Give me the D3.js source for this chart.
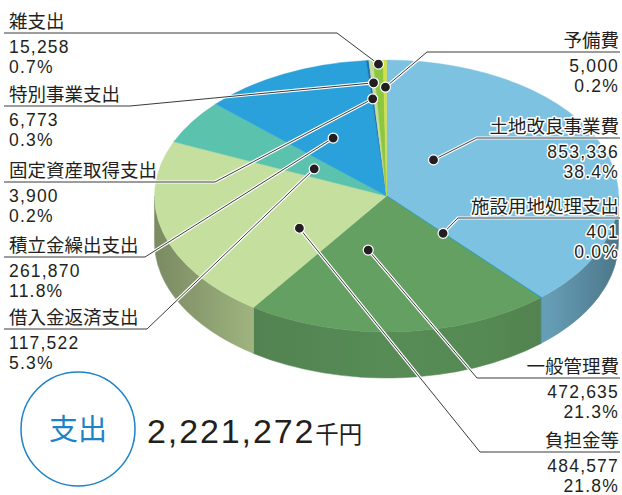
<!DOCTYPE html>
<html>
<head>
<meta charset="utf-8">
<script src="https://cdn.jsdelivr.net/npm/d3@7"></script>
<style>
  html, body { margin: 0; padding: 0; background: #fff; }
  svg { display: block; }
  .name { font-family: "Noto Sans CJK JP", sans-serif; font-size: 18.5px; fill: #231f20; }
  .num { font-family: "Liberation Sans", Arial, sans-serif; font-size: 17.5px; letter-spacing: 1.2px; fill: #231f20; }
  .halo { stroke: #fff; stroke-width: 3px; stroke-linejoin: round; paint-order: stroke; }
</style>
</head>
<body>
<div id="chart"></div>
<script>
// data, in pie order (clockwise from 12 o'clock)
const categories = ['土地改良事業費', '施設用地処理支出', '一般管理費', '負担金等', '借入金返済支出',
  '積立金繰出支出', '固定資産取得支出', '特別事業支出', '雑支出', '予備費']
const values = [853336, 401, 472635, 484577, 117522, 261870, 3900, 6773, 15258, 5000]
const colors = ['#7ec2e1', '#1a9fdc', '#64a062', '#c5df9e', '#5bc2ae',
  '#2aa1da', '#1b6fb4', '#c4dd9a', '#8dc641', '#d4e03c']
const total = 2221272
const totalLabel = '支出'
const unitLabel = '千円'

// label layout: side, underline y, bend x, dot position inside slice (t along slice, r radius fraction)
const labelLayout = [
  { side: 'right', y: 138, bend: 477, t: 0.27, r: 0.334 },
  { side: 'right', y: 218, bend: 458, t: 0.5, r: 0.367 },
  { side: 'right', y: 378, bend: 477, t: 0.69, r: 0.405 },
  { side: 'right', y: 452, bend: 480, t: 0.29, r: 0.444 },
  { side: 'left', y: 329, bend: 147, t: 0.48, r: 0.37 },
  { side: 'left', y: 257, bend: 145, t: 0.45, r: 0.484 },
  { side: 'left', y: 182, bend: 215, t: 0.4, r: 0.717 },
  { side: 'left', y: 106, bend: 130, t: 0.5, r: 0.834 },
  { side: 'left', y: 33, bend: 337, t: 0.5, r: 0.97 },
  { side: 'right', y: 52, bend: 427, t: 0.6, r: 0.80 }
]

const width = 622
const height = 495
const cx = 386.5, cy = 196, rx = 232, ry = 136, depth = 46

const svg = d3.select('#chart').append('svg')
  .attr('width', width)
  .attr('height', height)

const defs = svg.append('defs')

const data = categories.map((c, i) => ({ name: c, value: values[i], color: colors[i], layout: labelLayout[i] }))
const arcs = d3.pie().sort(null).value(d => d.value)(data)

const pct = d3.format('.1%')
const num = d3.format(',')

// point on top ellipse, angle clockwise from top
const pt = (a, r = 1, dy = 0) => [cx + rx * r * Math.sin(a), cy - ry * r * Math.cos(a) + dy]

// side walls (front half only)
const sideG = svg.append('g').attr('class', 'sides')
arcs.forEach((d, i) => {
  const a0 = Math.max(d.startAngle, Math.PI / 2)
  const a1 = Math.min(d.endAngle, Math.PI * 1.5)
  if (a1 <= a0) return
  const gid = 'side' + i
  const grad = defs.append('linearGradient')
    .attr('id', gid)
    .attr('gradientUnits', 'userSpaceOnUse')
    .attr('x1', cx - rx).attr('x2', cx + rx)
    .attr('y1', 0).attr('y2', 0)
  const stops = [[0, 1.35], [0.23, 0.55], [0.5, 0.38], [0.7, 0.42], [0.85, 0.6], [1, 1.4]]
  stops.forEach(s => {
    grad.append('stop').attr('offset', s[0]).attr('stop-color', d3.color(d.data.color).darker(s[1]))
  })
  const p0 = pt(a0), p1 = pt(a1)
  const q0 = pt(a0, 1, depth), q1 = pt(a1, 1, depth)
  const path = `M${p0}A${rx},${ry} 0 0 1 ${p1}L${q1}A${rx},${ry} 0 0 0 ${q0}Z`
  sideG.append('path')
    .attr('d', path)
    .attr('fill', `url(#${gid})`)
    .attr('stroke', `url(#${gid})`)
    .attr('stroke-width', 0.5)
})

// top face
const arc = d3.arc().innerRadius(0).outerRadius(rx)
svg.append('g')
  .attr('class', 'top')
  .attr('transform', `translate(${cx},${cy}) scale(1,${ry / rx})`)
  .selectAll('path')
  .data(arcs)
  .join('path')
  .attr('d', arc)
  .attr('fill', d => d.data.color)
  .attr('stroke', d => d.data.color)
  .attr('stroke-width', d => d.data.value < 1000 ? 1.3 : 0.4)
  .attr('vector-effect', 'non-scaling-stroke')

// leader lines
const dotPos = d => {
  const a = d.startAngle + (d.endAngle - d.startAngle) * d.data.layout.t
  return pt(a, d.data.layout.r)
}
const linePts = d => {
  const L = d.data.layout
  const xEdge = L.side === 'left' ? 4 : 620
  return [[xEdge, L.y], [L.bend, L.y], dotPos(d)]
}
const lineGen = d3.line()
const leaders = svg.append('g').attr('class', 'leaders')
leaders.selectAll('path.halo-line')
  .data(arcs)
  .join('path')
  .attr('class', 'halo-line')
  .attr('d', d => lineGen(linePts(d)))
  .attr('fill', 'none')
  .attr('stroke', '#fff')
  .attr('stroke-width', 3.2)
leaders.selectAll('path.leader')
  .data(arcs)
  .join('path')
  .attr('class', 'leader')
  .attr('d', d => lineGen(linePts(d)))
  .attr('fill', 'none')
  .attr('stroke', '#3a3a3a')
  .attr('stroke-width', 1)

svg.append('g').attr('class', 'dots')
  .selectAll('circle')
  .data(arcs)
  .join('circle')
  .attr('cx', d => dotPos(d)[0])
  .attr('cy', d => dotPos(d)[1])
  .attr('r', 5)
  .attr('fill', '#231f20')
  .attr('stroke', '#fff')
  .attr('stroke-width', 1.2)

// labels
const labels = svg.append('g').attr('class', 'labels')
  .selectAll('g')
  .data(arcs)
  .join('g')
  .attr('transform', d => `translate(${d.data.layout.side === 'left' ? 9 : 619},${d.data.layout.y})`)
  .attr('text-anchor', d => d.data.layout.side === 'left' ? 'start' : 'end')

labels.append('text')
  .attr('class', 'name halo')
  .attr('y', -5)
  .text(d => d.data.name)
labels.append('text')
  .attr('class', 'num halo')
  .attr('y', 19.5)
  .text(d => num(d.data.value))
labels.append('text')
  .attr('class', 'num halo')
  .attr('y', 39.5)
  .text(d => pct(d.data.value / total))

// total
svg.append('circle')
  .attr('cx', 78).attr('cy', 429).attr('r', 57)
  .attr('fill', 'none')
  .attr('stroke', '#1e82c8')
  .attr('stroke-width', 1.5)
svg.append('text')
  .attr('x', 78).attr('y', 440)
  .attr('text-anchor', 'middle')
  .attr('font-family', '"Noto Sans CJK JP", sans-serif')
  .attr('font-size', 29)
  .attr('fill', '#1e82c8')
  .text(totalLabel)
const tt = svg.append('text')
  .attr('x', 147).attr('y', 443)
  .attr('fill', '#231f20')
tt.append('tspan')
  .attr('font-family', '"Liberation Sans", Arial, sans-serif')
  .attr('font-size', 34)
  .attr('letter-spacing', 1.9)
  .text(num(total))
tt.append('tspan')
  .attr('font-family', '"Noto Sans CJK JP", sans-serif')
  .attr('font-size', 23.5)
  .attr('dx', 0)
  .text(unitLabel)
</script>
</body>
</html>
